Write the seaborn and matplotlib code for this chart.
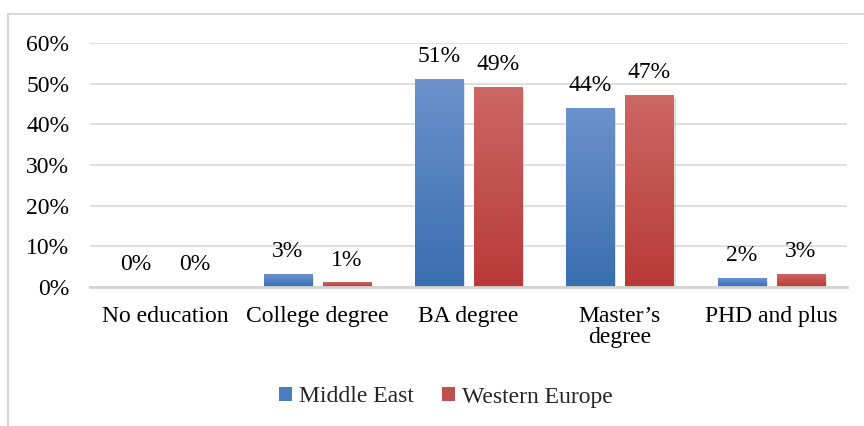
import numpy as np
import pandas as pd
import matplotlib
matplotlib.use("Agg")
import matplotlib.pyplot as plt
import matplotlib.patheffects as pe
from matplotlib.patches import Patch, Rectangle
from matplotlib.ticker import FuncFormatter, MultipleLocator
import seaborn as sns

# Education level by region (percent of respondents)
categories = ["No education", "College degree", "BA degree", "Master\u2019s\ndegree", "PHD and plus"]
regions = ["Middle East", "Western Europe"]
middle_east = [0, 3, 51, 44, 2]
western_europe = [0, 1, 49, 47, 3]

df = pd.DataFrame({
    "Level": categories * 2,
    "Region": [regions[0]] * len(categories) + [regions[1]] * len(categories),
    "Share": middle_east + western_europe,
})

# gradient colours per region: (top, bottom)
gradients = {
    "Middle East": ("#6b92cb", "#3a6db1"),
    "Western Europe": ("#cb6764", "#b83a38"),
}
solid = {"Middle East": "#4a7cc0", "Western Europe": "#c0504d"}

sns.set_theme(style="white")
plt.rcParams["font.family"] = ["Liberation Serif", "DejaVu Serif"]
plt.rcParams["font.size"] = 17

fig = plt.figure(figsize=(8.64, 4.26), dpi=100)
ax = fig.add_axes([90 / 864, 1 - 287 / 426, (847 - 90) / 864, (287 - 43) / 426])

sns.barplot(data=df, x="Level", y="Share", hue="Region", order=categories,
            hue_order=regions, palette=solid, width=0.78, gap=0.186,
            ax=ax, legend=False, saturation=1, zorder=3)

ax.set_ylim(0, 60)
ax.set_xlim(-0.5, len(categories) - 0.5)
ax.yaxis.set_major_locator(MultipleLocator(10))
ax.yaxis.set_major_formatter(FuncFormatter(lambda v, _: f"{v:.0f}%"))
ax.set_xlabel("")
ax.set_ylabel("")
ax.grid(axis="y", color="#d9d9d9", linewidth=1.2, zorder=0)
ax.set_axisbelow(True)
for side in ["top", "left", "right"]:
    ax.spines[side].set_visible(False)
ax.spines["bottom"].set_color("#d4d4d4")
ax.spines["bottom"].set_linewidth(2)
ax.spines["bottom"].set_zorder(5)
ax.tick_params(axis="both", length=0, labelsize=17, colors="black")
ax.tick_params(axis="y", pad=15)
ax.tick_params(axis="x", pad=14)
for lbl in ax.get_xticklabels():
    lbl.set_linespacing(1.0)

# gradient fill and value labels for every bar
for region, container in zip(regions, ax.containers):
    top, bottom = gradients[region]
    cmap = matplotlib.colors.LinearSegmentedColormap.from_list(region, [bottom, top])
    grad = np.linspace(0, 1, 256).reshape(-1, 1)
    for bar in container:
        x0, w, h = bar.get_x(), bar.get_width(), bar.get_height()
        if h > 0:
            bar.set_path_effects([pe.SimplePatchShadow(offset=(1.5, -1.5), shadow_rgbFace="#9a9a9a", alpha=0.35),
                                  pe.Normal()])
            ax.imshow(grad, cmap=cmap, origin="lower", aspect="auto",
                      extent=[x0, x0 + w, 0, h], zorder=4, interpolation="bilinear")
        ax.annotate(f"{h:.0f}%", (x0 + w / 2, h), xytext=(0, 16.5),
                    textcoords="offset points", ha="center", va="center",
                    fontsize=17, color="black", zorder=6)

ax.set_ylim(0, 60)
ax.set_xlim(-0.5, len(categories) - 0.5)

handles = [Patch(facecolor=solid[r], edgecolor="none", label=r) for r in regions]
fig.legend(handles=handles, loc="center", bbox_to_anchor=(446 / 864, 1 - 397 / 426),
           ncol=2, frameon=False, fontsize=17, handlelength=0.55, handleheight=0.55,
           handletextpad=0.3, columnspacing=1.2, borderaxespad=0)

# chart area frame
fig.patches.append(Rectangle((8 / 864, -0.1), 1.2, 1 - 14 / 426 + 0.1, transform=fig.transFigure,
                             fill=False, edgecolor="#d9d9d9", linewidth=1.5, zorder=0))

fig.savefig("out.png", dpi=100)
